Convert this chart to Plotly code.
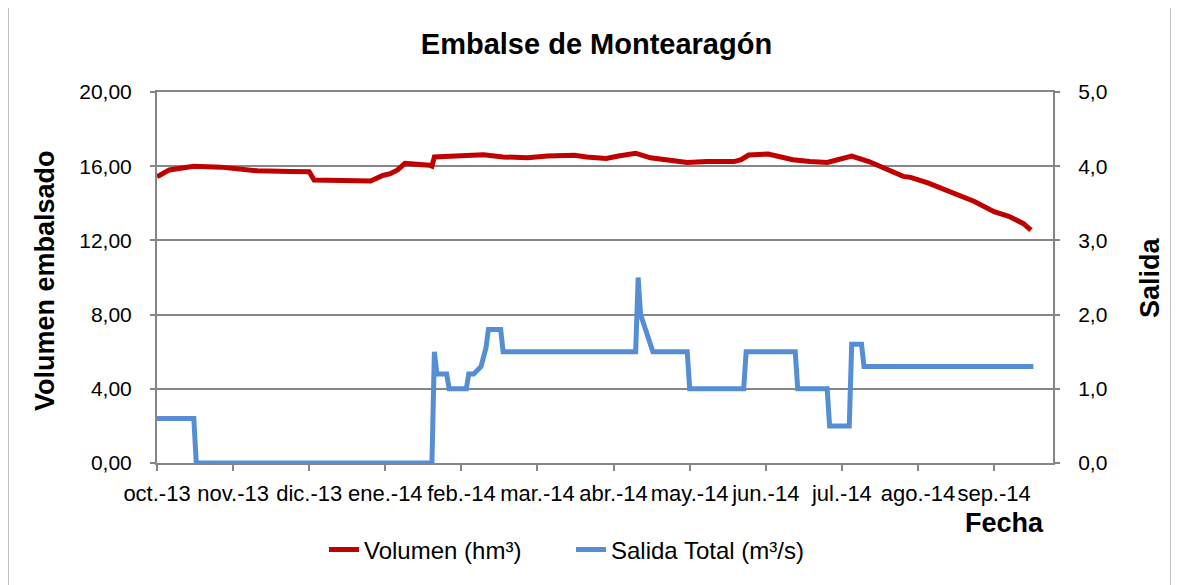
import plotly.graph_objects as go

# ---- data ----
vol_dates = ["2013-10-01", "2013-10-02", "2013-10-06", "2013-10-16", "2013-10-27", "2013-11-11",
             "2013-11-24", "2013-12-02", "2013-12-04", "2013-12-24", "2013-12-27", "2014-01-01",
             "2014-01-04", "2014-01-07", "2014-01-10", "2014-01-20", "2014-01-21", "2014-01-22",
             "2014-02-06", "2014-02-11", "2014-02-19", "2014-03-01", "2014-03-09", "2014-03-20",
             "2014-03-25", "2014-04-02", "2014-04-07", "2014-04-14", "2014-04-20", "2014-04-28",
             "2014-05-05", "2014-05-13", "2014-05-24", "2014-05-27", "2014-05-30", "2014-06-07",
             "2014-06-17", "2014-06-24", "2014-07-01", "2014-07-11", "2014-07-18", "2014-08-01",
             "2014-08-04", "2014-08-11", "2014-08-18", "2014-08-30", "2014-09-07", "2014-09-10",
             "2014-09-13", "2014-09-19", "2014-09-22"]
volumen = [15.45, 15.5, 15.8, 16.0, 15.95, 15.75,
           15.72, 15.7, 15.25, 15.17, 15.2, 15.5,
           15.6, 15.8, 16.15, 16.05, 16.0, 16.5,
           16.55, 16.62, 16.5, 16.45, 16.55, 16.59,
           16.5, 16.42, 16.55, 16.7, 16.45, 16.35,
           16.2, 16.25, 16.25, 16.35, 16.6, 16.66,
           16.35, 16.25, 16.2, 16.55, 16.25, 15.45,
           15.4, 15.1, 14.75, 14.1, 13.55, 13.45,
           13.3, 12.9, 12.55]

sal_dates = ["2013-10-01", "2013-10-16", "2013-10-17", "2014-01-21", "2014-01-22", "2014-01-23",
             "2014-01-27", "2014-01-28", "2014-02-04", "2014-02-05", "2014-02-07", "2014-02-10",
             "2014-02-12", "2014-02-13", "2014-02-18", "2014-02-19", "2014-04-14", "2014-04-15",
             "2014-04-16", "2014-04-21", "2014-05-05", "2014-05-06", "2014-05-28", "2014-05-29",
             "2014-06-18", "2014-06-19", "2014-07-01", "2014-07-02", "2014-07-10", "2014-07-11",
             "2014-07-15", "2014-07-16", "2014-09-23"]
salida = [0.6, 0.6, 0.0, 0.0, 1.5, 1.2,
          1.2, 1.0, 1.0, 1.2, 1.2, 1.3,
          1.55, 1.8, 1.8, 1.5, 1.5, 2.5,
          2.0, 1.5, 1.5, 1.0, 1.0, 1.5,
          1.5, 1.0, 1.0, 0.5, 0.5, 1.6,
          1.6, 1.3, 1.3]

tick_dates = ["2013-10-01", "2013-11-01", "2013-12-02", "2014-01-02", "2014-02-02", "2014-03-05",
              "2014-04-05", "2014-05-06", "2014-06-06", "2014-07-07", "2014-08-07", "2014-09-07"]
tick_labels = ["oct.-13", "nov.-13", "dic.-13", "ene.-14", "feb.-14", "mar.-14",
               "abr.-14", "may.-14", "jun.-14", "jul.-14", "ago.-14", "sep.-14"]

title_text = "Embalse de Montearagón"
y1_title = "Volumen embalsado"
y2_title = "Salida"
x_title = "Fecha"
name_vol = "Volumen (hm³)"
name_sal = "Salida Total (m³/s)"

# ---- styling ----
FONT = "Liberation Sans, Arial, sans-serif"
GRID = "#868686"
RED = "#C00000"
BLUE = "#558ED5"

OFF = 8  # page body margin
W, H = 1179, 585
# desired plot area in page pixels: x 157..1053, y 92..463
PX0, PX1, PY0, PY1 = 157, 1053, 92, 463
L, T = PX0 - OFF, PY0 - OFF
R, B = W - (PX1 - OFF), H - (PY1 - OFF)
pw, ph = PX1 - PX0, PY1 - PY0

fig = go.Figure()
fig.add_trace(go.Scatter(x=vol_dates, y=volumen, name=name_vol, mode="lines",
                         line=dict(color=RED, width=5), yaxis="y"))
fig.add_trace(go.Scatter(x=sal_dates, y=salida, name=name_sal, mode="lines",
                         line=dict(color=BLUE, width=5), yaxis="y2"))

def px_x(x):
    return (x - PX0) / pw

def px_y(y):
    return (PY1 - y) / ph

fig.update_layout(
    width=W, height=H,
    margin=dict(l=L, r=R, t=T, b=B, autoexpand=False),
    paper_bgcolor="white", plot_bgcolor="white",
    separators=",.",
    font=dict(family=FONT, color="black", size=20),
    title=dict(text="<b>" + title_text + "</b>", x=(596.5 - OFF) / W, xref="container",
               xanchor="center", y=1 - (44 - OFF) / H, yref="container", yanchor="middle",
               font=dict(family=FONT, size=29, color="black")),
    xaxis=dict(type="date", range=["2013-10-01", "2014-10-01"],
               tickmode="array", tickvals=tick_dates, ticktext=tick_labels, tickangle=0,
               ticks="outside", ticklen=6, tickwidth=2, tickcolor=GRID,
               showline=True, linecolor=GRID, linewidth=2, mirror=True,
               showgrid=False, zeroline=False, ticklabelstandoff=4,
               tickfont=dict(family=FONT, size=22, color="black")),
    yaxis=dict(range=[0, 20], tick0=0, dtick=4, tickformat=".2f",
               ticks="outside", ticklen=5, tickwidth=2, tickcolor=GRID,
               showline=True, linecolor=GRID, linewidth=2,
               showgrid=True, gridcolor=GRID, gridwidth=2, zeroline=False,
               ticklabelstandoff=14,
               tickfont=dict(family=FONT, size=21, color="black")),
    yaxis2=dict(range=[0, 5], tick0=0, dtick=1, tickformat=".1f", overlaying="y", side="right",
                ticks="outside", ticklen=5, tickwidth=2, tickcolor=GRID,
                showline=True, linecolor=GRID, linewidth=2,
                showgrid=False, zeroline=False, ticklabelstandoff=14,
                tickfont=dict(family=FONT, size=21, color="black")),
    showlegend=True,
    legend=dict(orientation="h", x=px_x(324), xanchor="left", y=px_y(550), yanchor="middle",
                font=dict(family=FONT, size=24, color="black"), bgcolor="rgba(0,0,0,0)",
                entrywidth=202, entrywidthmode="pixels", tracegroupgap=0),
    hovermode=False,
)

fig.add_annotation(text="<b>" + y1_title + "</b>", xref="paper", yref="paper",
                   x=px_x(45), y=px_y(281), textangle=-90, showarrow=False,
                   xanchor="center", yanchor="middle",
                   font=dict(family=FONT, size=27, color="black"))
fig.add_annotation(text="<b>" + y2_title + "</b>", xref="paper", yref="paper",
                   x=px_x(1150), y=px_y(278), textangle=-90, showarrow=False,
                   xanchor="center", yanchor="middle",
                   font=dict(family=FONT, size=27, color="black"))
fig.add_annotation(text="<b>" + x_title + "</b>", xref="paper", yref="paper",
                   x=px_x(1046), y=px_y(523), showarrow=False,
                   xanchor="right", yanchor="middle",
                   font=dict(family=FONT, size=27, color="black"))

# outer chart frame
fig.add_shape(type="rect", xref="paper", yref="paper",
              x0=px_x(8), x1=px_x(1171), y0=px_y(600), y1=px_y(5),
              line=dict(color=GRID, width=1), fillcolor="rgba(0,0,0,0)", layer="below")

fig.write_html("out.html")
